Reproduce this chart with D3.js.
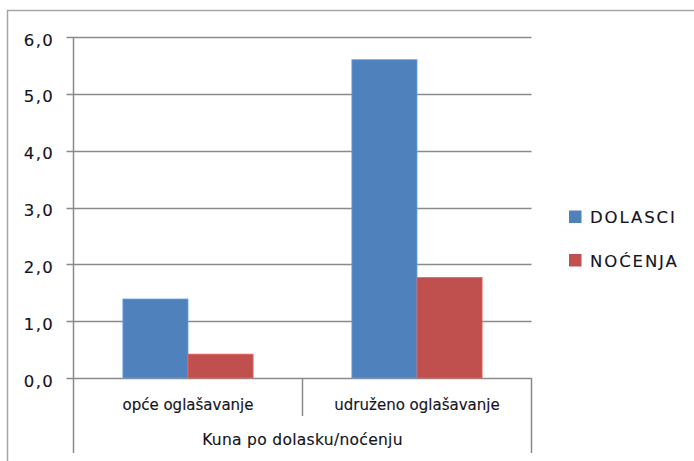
<!DOCTYPE html>
<html>
<head>
<meta charset="utf-8">
<script src="https://cdn.jsdelivr.net/npm/d3@7"></script>
<style>
  html, body { margin: 0; padding: 0; background: #fff; }
  svg { display: block; }
  text { font-family: "DejaVu Sans", sans-serif; fill: #14141e; stroke: #14141e; stroke-width: 0.15px; }
</style>
</head>
<body>
<svg id="chart" width="694" height="461"></svg>
<script>
// Data
const categories = ["opće oglašavanje", "udruženo oglašavanje"];
const seriesNames = ["DOLASCI", "NOĆENJA"];
const dolasci = [1.39, 5.6];
const nocenja = [0.42, 1.77];
const yTicks = [0, 1, 2, 3, 4, 5, 6];
const axisTitle = "Kuna po dolasku/noćenju";

const seriesValues = [dolasci, nocenja];
const colors = ["#4F81BD", "#C0504D"];

const svg = d3.select("#chart");
const W = 694, H = 461;

// Plot area
const plot = { left: 73.5, right: 531.5, top: 37, bottom: 378, axisBottom: 453 };

const y = d3.scaleLinear().domain([0, 6]).range([plot.bottom, plot.top]);
const x0 = d3.scaleBand().domain(categories).range([plot.left, plot.right]).padding(0);
const groupMargin = 49.4;
const x1 = d3.scaleBand().domain(seriesNames)
  .range([groupMargin, x0.bandwidth() - groupMargin]).padding(0);

const fmt = v => d3.format(".1f")(v).replace(".", ",");
const gridColor = "#8a8a8a";

// Outer frame (top and left edges)
svg.append("path")
  .attr("d", `M7.5,${H} V10.5 H${W}`)
  .attr("fill", "none").attr("stroke", "#a6a6a6").attr("stroke-width", 1.5);

// Gridlines with tick marks
svg.append("g").selectAll("line").data(yTicks).join("line")
  .attr("x1", plot.left - 7).attr("x2", plot.right)
  .attr("y1", d => Math.round(y(d)) + 0.5).attr("y2", d => Math.round(y(d)) + 0.5)
  .attr("stroke", gridColor).attr("stroke-width", 1.4);

// Y tick labels
svg.append("g").selectAll("text").data(yTicks).join("text")
  .attr("x", 54).attr("y", d => y(d) + 8.5)
  .attr("text-anchor", "end")
  .style("font-size", "16.5px").style("letter-spacing", "1.3px")
  .text(fmt);

// Bars
const groups = svg.append("g").selectAll("g").data(categories).join("g")
  .attr("transform", c => `translate(${x0(c)},0)`);
groups.selectAll("rect")
  .data((c, i) => seriesNames.map((s, j) => ({ s, v: seriesValues[j][i], j })))
  .join("rect")
  .attr("x", d => x1(d.s))
  .attr("width", x1.bandwidth())
  .attr("y", d => y(d.v))
  .attr("height", d => y(0) - y(d.v))
  .attr("fill", d => colors[d.j])
  .attr("stroke", d => d3.color(colors[d.j]).brighter(0.6))
  .attr("stroke-width", 0.8);

// Value axis line
svg.append("line")
  .attr("x1", plot.left).attr("x2", plot.left)
  .attr("y1", plot.top).attr("y2", plot.axisBottom)
  .attr("stroke", gridColor).attr("stroke-width", 1.5);

// Category dividers
const edges = categories.map(c => x0(c) + x0.bandwidth());
svg.append("g").selectAll("line").data(edges).join("line")
  .attr("x1", d => d).attr("x2", d => d)
  .attr("y1", plot.bottom)
  .attr("y2", (d, i) => i === edges.length - 1 ? plot.axisBottom : 416)
  .attr("stroke", gridColor).attr("stroke-width", 1.5);

// Category labels
svg.append("g").selectAll("text").data(categories).join("text")
  .attr("x", c => x0(c) + x0.bandwidth() / 2)
  .attr("y", 409.5)
  .attr("text-anchor", "middle")
  .style("font-size", "15px")
  .text(d => d);

// Axis title
svg.append("text")
  .attr("x", (plot.left + plot.right) / 2)
  .attr("y", 445)
  .attr("text-anchor", "middle")
  .style("font-size", "15.5px").style("letter-spacing", "0.3px")
  .text(axisTitle);

// Legend
const legend = svg.append("g").selectAll("g").data(seriesNames).join("g")
  .attr("transform", (d, i) => `translate(569,${210.5 + i * 43.5})`);
legend.append("rect")
  .attr("width", 12.5).attr("height", 12.5)
  .attr("fill", (d, i) => colors[i]);
legend.append("text")
  .attr("x", 21).attr("y", 12.5)
  .style("font-size", "16.5px").style("letter-spacing", "1.9px")
  .text(d => d);
</script>
</body>
</html>
